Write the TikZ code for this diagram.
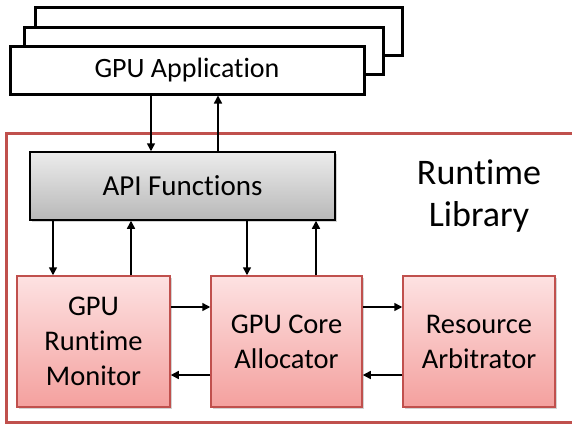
\documentclass[tikz,border=0pt]{standalone}
\usepackage{fontspec}
\setmainfont{Carlito}[Ligatures=NoCommon]
\usetikzlibrary{arrows.meta,shadows}
\definecolor{offred}{RGB}{192,80,77}
\definecolor{pinktop}{RGB}{253,226,226}
\definecolor{pinkbot}{RGB}{244,160,158}
\definecolor{graytop}{RGB}{236,236,236}
\definecolor{graybot}{RGB}{184,184,184}
\begin{document}
\begin{tikzpicture}[x=1pt,y=-1pt,
  appbox/.style={draw=black,line width=3pt,fill=white},
  apibox/.style={draw=black,line width=1.5pt,top color=graytop,bottom color=graybot,
    minimum width=305pt,minimum height=68pt,inner sep=0pt,
    drop shadow={shadow xshift=2pt,shadow yshift=-2pt,opacity=0.35},
    font=\fontsize{29}{35}\selectfont},
  redbox/.style={draw=offred,line width=1.5pt,top color=pinktop,bottom color=pinkbot,
    minimum height=131pt,inner sep=0pt,align=center,
    drop shadow={shadow xshift=2pt,shadow yshift=-2pt,opacity=0.35},
    font=\fontsize{28.5}{35}\selectfont},
  arr/.style={line width=1.5pt,-{Triangle[length=8pt,width=8pt]}}
]
\useasboundingbox (0,0) rectangle (572,423);
% stacked application windows
\path[appbox] (35,7) rectangle (402,55);
\path[appbox] (24,27) rectangle (383,74);
\node[appbox,minimum width=354pt,minimum height=48pt,inner sep=0pt,
  font=\fontsize{28}{35}\selectfont] (app) at (187,70) {GPU Application};
% runtime library frame
\draw[offred,line width=3pt] (6,133) rectangle (590,422);
\node[font=\fontsize{36}{42}\selectfont,align=center] (lib) at (479,196) {Runtime\\Library};
% API
\node[apibox] (api) at (182.5,186) {API Functions};
% bottom boxes
\node[redbox,minimum width=153pt] (mon) at (93.5,341.5) {GPU\\Runtime\\Monitor};
\node[redbox,minimum width=151pt] (core) at (286.5,341.5) {GPU Core\\Allocator};
\node[redbox,minimum width=152pt] (arb) at (479,341.5) {Resource\\Arbitrator};
% arrows
\draw[arr] (app.south -| 151,0) -- (api.north -| 151,0);
\draw[arr] (api.north -| 218,0) -- (app.south -| 218,0);
\draw[arr] (api.south -| 53,0) -- (mon.north -| 53,0);
\draw[arr] (mon.north -| 131,0) -- (api.south -| 131,0);
\draw[arr] (api.south -| 247,0) -- (core.north -| 247,0);
\draw[arr] (core.north -| 316,0) -- (api.south -| 316,0);
\draw[arr] (mon.east |- 0,307) -- (core.west |- 0,307);
\draw[arr] (core.west |- 0,375) -- (mon.east |- 0,375);
\draw[arr] (core.east |- 0,307) -- (arb.west |- 0,307);
\draw[arr] (arb.west |- 0,375) -- (core.east |- 0,375);
\end{tikzpicture}
\end{document}
